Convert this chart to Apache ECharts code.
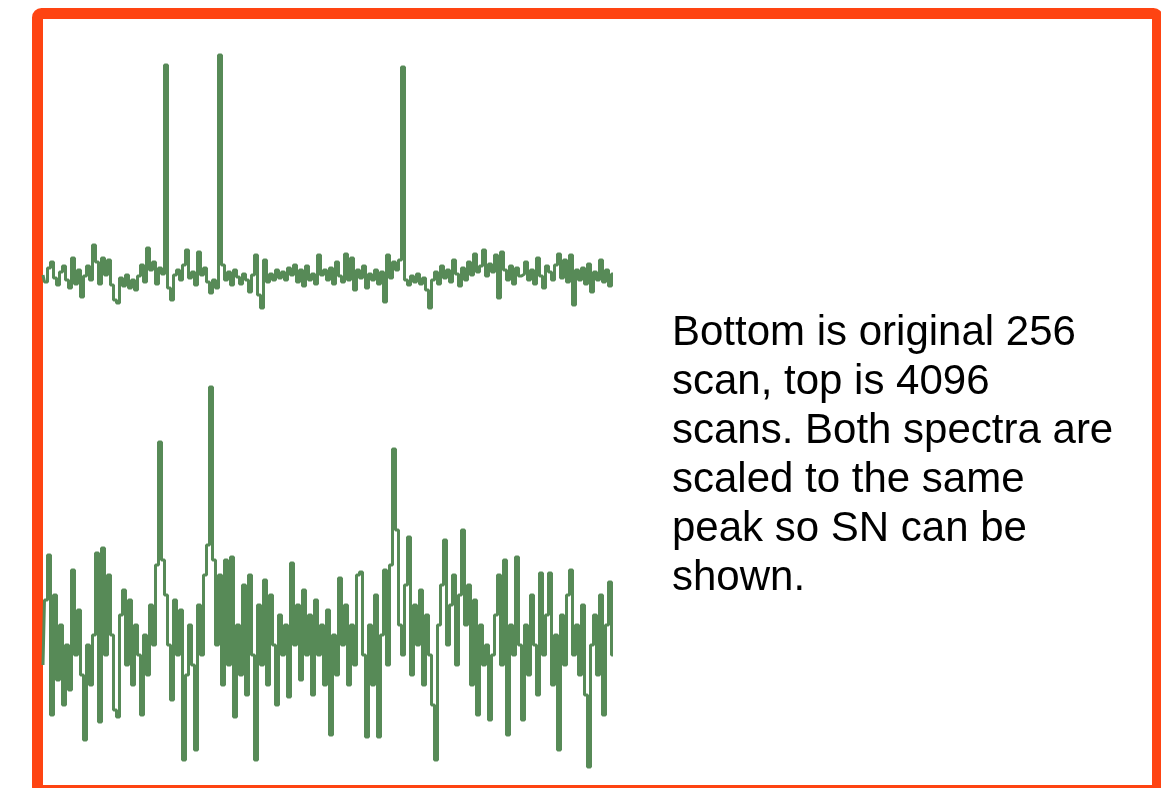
<!DOCTYPE html>
<html>
<head>
<meta charset="utf-8">
<script src="https://cdn.jsdelivr.net/npm/echarts@6/dist/echarts.min.js"></script>
<style>
html,body{margin:0;padding:0;background:#fff;}
#chart{width:1161px;height:788px;}
</style>
</head>
<body>
<div id="chart"></div>
<script>
// Top spectrum: 4096 scans (relative intensity, arbitrary units)
const topScans = [
  35,28,42,48,32,25,38,44,30,22,
  52,26,40,13,34,44,30,65,48,26,
  52,35,50,25,10,7,32,24,35,22,
  30,20,34,45,28,62,40,48,26,42,
  36,245,22,10,35,40,30,45,60,32,
  38,25,58,35,42,28,17,30,22,255,
  45,30,38,25,40,33,26,36,30,18,
  35,55,15,2,50,28,36,30,40,32,
  38,30,42,35,45,28,40,24,44,30,
  36,26,55,35,40,30,42,26,48,34,
  28,56,30,52,20,40,32,44,22,36,
  30,40,26,38,8,55,32,48,40,50,
  243,30,25,34,28,36,26,32,20,2,
  30,38,26,44,32,40,28,50,36,24,
  42,30,48,35,56,38,44,60,34,46,
  38,55,12,58,40,30,44,26,42,34,
  36,48,30,40,26,52,34,22,44,38,
  30,45,56,32,50,28,55,5,40,30,
  42,26,46,18,38,30,50,28,40,24,36
];
// Bottom spectrum: original 256 scans, scaled to the same peak
const bottomScans = [
  110,175,220,60,180,95,150,70,130,85,
  205,120,165,100,35,130,90,140,222,53,
  227,120,200,140,65,58,160,185,110,175,
  90,150,120,60,140,100,170,130,210,333,
  215,180,130,75,175,120,165,15,100,150,
  110,25,170,120,200,230,388,215,130,200,
  90,215,110,218,58,150,100,190,80,200,
  120,15,170,110,195,90,180,130,70,160,
  120,150,78,212,130,170,95,185,120,160,
  80,175,120,150,90,165,40,140,100,197,
  130,170,90,150,110,200,203,120,38,150,
  90,180,38,140,205,110,210,326,245,150,
  120,190,238,100,170,130,185,90,160,120,
  70,15,150,190,235,130,170,200,110,180,
  245,150,190,90,175,60,150,110,130,55,
  120,160,200,110,215,40,150,120,218,130,
  55,150,100,180,130,80,202,120,160,202,
  90,140,25,160,110,180,205,120,150,100,
  170,80,8,130,160,100,180,60,150,193,120
];
const textLines = [
  'Bottom is original 256',
  'scan, top is 4096',
  'scans. Both spectra are',
  'scaled to the same',
  'peak so SN can be',
  'shown.'
];

const green = '#578a57';
const toPairs = arr => arr.map((v, i) => [i, v]);

const chart = echarts.init(document.getElementById('chart'), null, {renderer: 'canvas'});
chart.setOption({
  animation: false,
  backgroundColor: '#ffffff',
  grid: [
    {left: 43, width: 570, top: 50, height: 260},
    {left: 43, width: 570, top: 380, height: 395}
  ],
  xAxis: [
    {type: 'value', gridIndex: 0, min: 0, max: topScans.length - 1, show: false},
    {type: 'value', gridIndex: 1, min: 0, max: bottomScans.length - 1, show: false}
  ],
  yAxis: [
    {type: 'value', gridIndex: 0, min: 0, max: 260, show: false},
    {type: 'value', gridIndex: 1, min: 0, max: 395, show: false}
  ],
  series: [
    {
      name: '4096 scans', type: 'line', xAxisIndex: 0, yAxisIndex: 0,
      data: toPairs(topScans), step: 'middle', showSymbol: false,
      lineStyle: {color: green, width: 3}, itemStyle: {color: green}
    },
    {
      name: '256 scans', type: 'line', xAxisIndex: 1, yAxisIndex: 1,
      data: toPairs(bottomScans), step: 'middle', showSymbol: false,
      lineStyle: {color: green, width: 3}, itemStyle: {color: green}
    }
  ],
  graphic: [
    {
      type: 'rect', silent: true,
      shape: {x: 37.5, y: 13.5, width: 1120, height: 777, r: 4},
      style: {fill: 'none', stroke: '#fe4412', lineWidth: 11}
    },
    {
      type: 'text', silent: true, left: 672, top: 309,
      style: {
        text: textLines.join('\n'),
        font: '42px "Liberation Sans", Arial, sans-serif',
        lineHeight: 49,
        fill: '#000000'
      }
    }
  ]
});
</script>
</body>
</html>
